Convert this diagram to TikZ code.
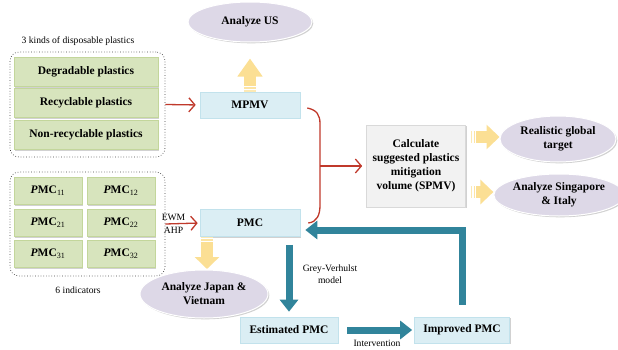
\documentclass[tikz,border=0pt]{standalone}
\usepackage{fontspec}
\setmainfont{Liberation Serif}
\usetikzlibrary{arrows.meta,shadows,calc,shapes.geometric}
\definecolor{grn}{HTML}{D7E4BD}
\definecolor{grnb}{HTML}{C3D69B}
\definecolor{blu}{HTML}{DBEEF4}
\definecolor{blub}{HTML}{C2E2EC}
\definecolor{lav}{HTML}{DDD8E7}
\definecolor{ylw}{HTML}{FBDF94}
\definecolor{tealc}{HTML}{31849B}
\definecolor{redc}{HTML}{C0392B}
\definecolor{gryf}{HTML}{F2F2F2}
\definecolor{gryb}{HTML}{D9D9D9}
\newcommand\yarr[3]{%
  \draw[ylw!70, line width=12pt] ($(#1)$) -- ($(#1)!1.6pt!(#2)$);
  \draw[ylw!85, line width=12pt] ($(#1)!2.8pt!(#2)$) -- ($(#1)!4.4pt!(#2)$);
  \draw[ylw, line width=12pt, -{Triangle[width=24pt,length=#3]}] ($(#1)!5.6pt!(#2)$) -- (#2);
}
\begin{document}
\begin{tikzpicture}[x=1pt,y=1pt,
  shad/.style={drop shadow={shadow xshift=1.3pt,shadow yshift=-1.3pt,opacity=0.3,fill=black!60}},
  boldf/.style={font=\fontsize{11.5}{14}\selectfont\bfseries},
  smallf/.style={font=\fontsize{9.6}{11.5}\selectfont},
  gbox/.style={draw=grnb,fill=grn,line width=0.6pt,shad,inner sep=0pt,boldf},
  bbox/.style={draw=blub,fill=blu,line width=0.6pt,shad,inner sep=0pt,boldf,minimum height=26pt},
  ell/.style={ellipse,draw=white,line width=1pt,fill=lav,shad,inner sep=0pt,boldf,align=center},
  dotbox/.style={draw=black!75,dotted,line width=0.7pt,rounded corners=9pt,minimum width=155pt,inner sep=0pt},
  rarrow/.style={draw=redc,line width=1.3pt,-{Straight Barb[length=6pt,width=14pt]}},
  tarrow/.style={draw=tealc,line width=7pt,-{Triangle[width=18pt,length=12pt]}}
]
\useasboundingbox (0,0) rectangle (618,349);

% group 1
\node[smallf] (lab1) at (78,308) {3 kinds of disposable plastics};
\node[dotbox,minimum height=105pt] (grp1) at (87.5,244.5) {};
\node[gbox,minimum width=144pt,minimum height=29pt] (deg) at (86,277) {Degradable plastics};
\node[gbox,minimum width=144pt,minimum height=29pt] (rec) at (86,246) {Recyclable plastics};
\node[gbox,minimum width=144pt,minimum height=29pt] (non) at (86,214) {Non-recyclable plastics};

% group 2
\node[dotbox,minimum height=104pt] (grp2) at (87.5,125) {};
\node[gbox,minimum width=68pt,minimum height=27pt] (p11) at (48,158) {\textit{P}MC\textsubscript{\mdseries 11}};
\node[gbox,minimum width=68pt,minimum height=27pt] (p12) at (121,158) {\textit{P}MC\textsubscript{\mdseries 12}};
\node[gbox,minimum width=68pt,minimum height=27pt] (p21) at (48,126) {\textit{P}MC\textsubscript{\mdseries 21}};
\node[gbox,minimum width=68pt,minimum height=27pt] (p22) at (121,126) {\textit{P}MC\textsubscript{\mdseries 22}};
\node[gbox,minimum width=68pt,minimum height=27pt] (p31) at (48,95) {\textit{P}MC\textsubscript{\mdseries 31}};
\node[gbox,minimum width=68pt,minimum height=27pt] (p32) at (121,95) {\textit{P}MC\textsubscript{\mdseries 32}};
\node[smallf] (lab2) at (78,59) {6 indicators};

% middle boxes
\node[bbox,minimum width=100pt] (mpmv) at (250,244) {MPMV};
\node[bbox,minimum width=100pt,minimum height=27pt] (pmc) at (250,126) {PMC};
\node[ell,minimum width=124pt,minimum height=40pt] (us) at (250,327) {Analyze US};
\node[ell,minimum width=128pt,minimum height=48pt] (jv) at (204,55) {Analyze Japan \&\\Vietnam};
\node[bbox,minimum width=98pt] (est) at (289,19) {Estimated PMC};
\node[bbox,minimum width=95pt] (imp) at (462,19) {Improved PMC};

% right
\node[draw=gryb,fill=gryf,line width=0.6pt,shad,boldf,align=center,minimum width=99pt,minimum height=82pt,inner sep=0pt] (spmv) at (416,183)
  {Calculate\\suggested plastics\\mitigation\\volume (SPMV)};
\node[ell,minimum width=116pt,minimum height=46pt] (rg) at (558,210) {Realistic global\\target};
\node[ell,minimum width=116pt,minimum height=42pt] (sg) at (559,154) {Analyze Singapore\\\& Italy};

% red connectors
\draw[rarrow,shorten >=4pt] (grp1.east) -- (mpmv.west);
\draw[rarrow,shorten >=2pt] (grp2.east) -- (pmc.west);
\node[smallf] (ewm) at (173.5,131.5) {EWM};
\node[smallf] (ahp) at (173.5,119) {AHP};
\coordinate (bt) at ($(mpmv.east)+(7,-3)$);
\coordinate (bb) at ($(pmc.east)+(8,0)$);
\coordinate (bj) at (320,183);
\draw[redc,line width=1.3pt] (bt) .. controls (317,239) and (320,234) .. (320,225) -- (320,144) .. controls (320,134) and (317,127) .. (bb);
\draw[rarrow,shorten >=4pt] (bj) -- (spmv.west);

% yellow block arrows
\yarr{mpmv.north}{$(us.south)+(0,-16)$}{18pt}
\yarr{207,112.5}{207,80}{12pt}
\yarr{$(spmv.east |- rg.west)+(5,2)$}{$(rg.west)+(0,2)$}{13pt}
\yarr{$(spmv.east |- sg.west)+(5,3)$}{$(sg.west)+(0,3)$}{13pt}

% teal arrows
\draw[tarrow] ($(est.north |- pmc.south)+(0,-8)$) -- ($(est.north)+(0,5)$);
\node[smallf,align=center] (gv) at (330,75) {Grey-Verhulst\\model};
\draw[tarrow] ($(est.east)+(9,0)$) -- ($(imp.west)+(-2,0)$);
\node[smallf] (int) at (377,6) {Intervention};
\draw[tarrow] ($(imp.north)+(0,12)$) |- ($(pmc.east)+(5,-7)$);
\end{tikzpicture}
\end{document}
